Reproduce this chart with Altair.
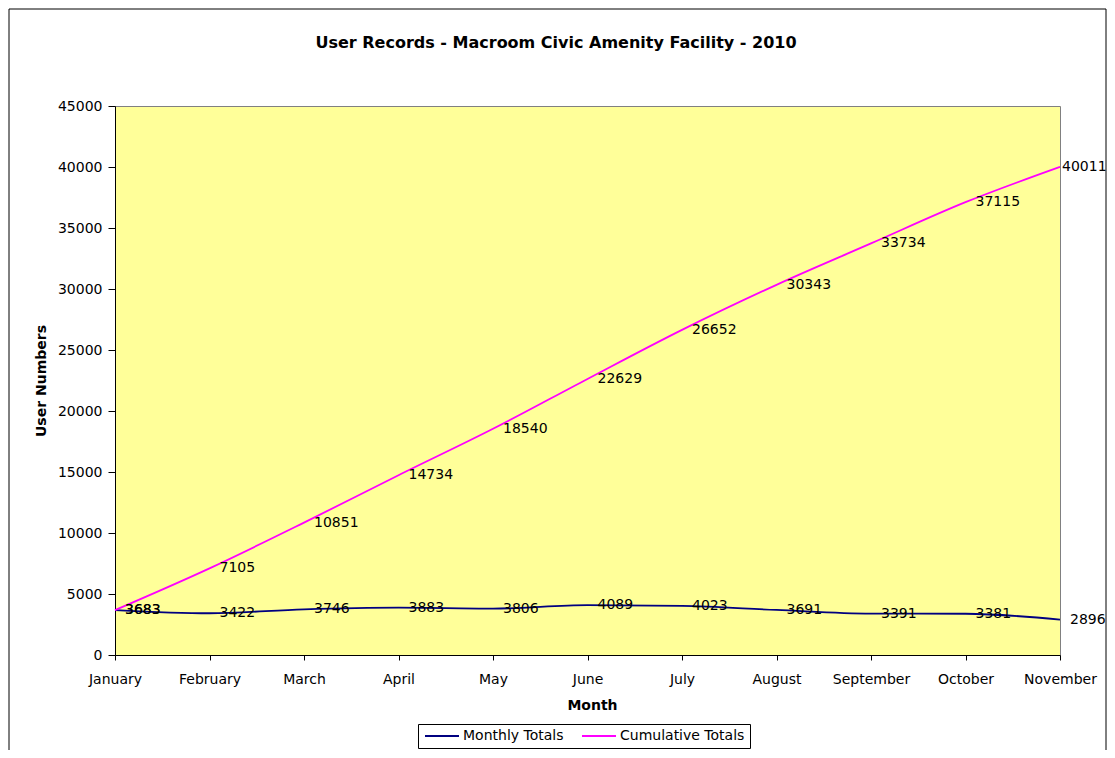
import altair as alt
import pandas as pd

months = ["January", "February", "March", "April", "May", "June",
          "July", "August", "September", "October", "November"]
monthly = [3683, 3422, 3746, 3883, 3806, 4089, 4023, 3691, 3391, 3381, 2896]
cumulative = [3683, 7105, 10851, 14734, 18540, 22629, 26652, 30343, 33734, 37115, 40011]
series_names = ["Monthly Totals", "Cumulative Totals"]
series_colors = ["#000080", "#FF00FF"]
y_ticks = list(range(0, 45001, 5000))
title_text = "User Records - Macroom Civic Amenity Facility - 2010"

rows = []
for m, v in zip(months, monthly):
    rows.append({"month": m, "series": series_names[0], "value": v})
for m, v in zip(months, cumulative):
    rows.append({"month": m, "series": series_names[1], "value": v})
df = pd.DataFrame(rows)

FONT = "DejaVu Sans"
W, H = 945, 549

x_enc = alt.X(
    "month:N", sort=months,
    scale=alt.Scale(type="point", padding=0, domain=months),
    axis=alt.Axis(title="Month", labelAngle=0, tickSize=5, labelPadding=12,
                  labelFlush=False, labelOverlap=False,
                  titleX=477, titleY=54, titleAlign="center",
                  titleBaseline="alphabetic"),
)
y_enc = alt.Y(
    "value:Q",
    scale=alt.Scale(domain=[0, 45000], nice=False),
    axis=alt.Axis(values=y_ticks, title="User Numbers", tickSize=7,
                  labelPadding=6, format="d",
                  titleX=-74, titleY=H / 2, titleAlign="center",
                  titleBaseline="middle"),
)

base = alt.Chart(df)

lines = base.mark_line(interpolate="monotone", strokeWidth=1.8).encode(
    x=x_enc, y=y_enc,
    color=alt.Color(
        "series:N",
        scale=alt.Scale(domain=series_names, range=series_colors),
        legend=alt.Legend(
            orient="none", legendX=303, legendY=618, direction="horizontal",
            title=None, symbolType="M-8.5,0H8.5", symbolSize=16,
            symbolStrokeWidth=2, symbolOffset=12, labelOffset=14,
            columnPadding=14, padding=5, strokeColor="black",
            fillColor="white", labelFont=FONT, labelFontSize=14,
            labelColor="black",
        ),
    ),
)

labels_main = base.mark_text(
    align="left", baseline="middle", dx=10, font=FONT, fontSize=14, color="black"
).encode(
    x=x_enc, y=y_enc, text=alt.Text("value:Q", format="d")
).transform_filter(alt.datum.month != "November")

labels_nov_cum = base.mark_text(
    align="left", baseline="middle", dx=2, font=FONT, fontSize=14, color="black"
).encode(
    x=x_enc, y=y_enc, text=alt.Text("value:Q", format="d")
).transform_filter(
    (alt.datum.month == "November") & (alt.datum.series == series_names[1])
)

labels_nov_mon = base.mark_text(
    align="left", baseline="middle", dx=10, font=FONT, fontSize=14, color="black"
).encode(
    x=x_enc, y=y_enc, text=alt.Text("value:Q", format="d")
).transform_filter(
    (alt.datum.month == "November") & (alt.datum.series == series_names[0])
)

frame = alt.Chart(alt.Data(values=[{}])).mark_rect(
    fillOpacity=0, stroke="black", strokeWidth=1
).encode(
    x=alt.value(-106), x2=alt.value(991), y=alt.value(-97), y2=alt.value(700)
)

title = alt.Chart(alt.Data(values=[{}])).mark_text(
    text=title_text, font=FONT, fontSize=16, fontWeight="bold",
    align="center", baseline="alphabetic", color="black"
).encode(x=alt.value(441), y=alt.value(-58))

chart = alt.layer(
    frame, lines, labels_main, labels_nov_cum, labels_nov_mon, title
).properties(
    width=W, height=H,
    autosize=alt.AutoSizeParams(type="none"),
    padding={"left": 107, "top": 98, "right": 47, "bottom": 95},
).configure(
    background="white"
).configure_view(
    fill="#FFFF99", stroke="#808080", strokeWidth=1
).configure_axis(
    grid=False, domainColor="black", tickColor="black", labelColor="black",
    titleColor="black", labelFont=FONT, titleFont=FONT, labelFontSize=14,
    titleFontSize=14, titleFontWeight="bold", domainWidth=1, tickWidth=1,
)

chart.save("out.html", embed_options={"renderer": "svg", "actions": False})
